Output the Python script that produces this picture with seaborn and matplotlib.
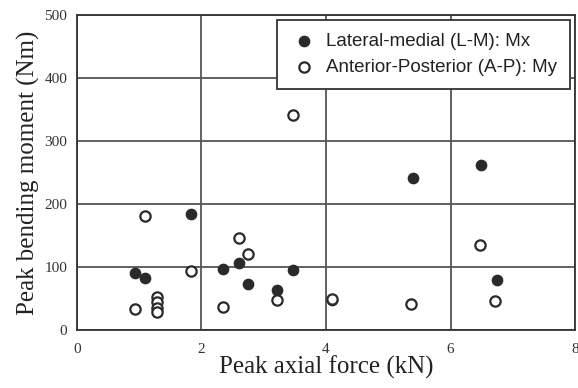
import matplotlib
matplotlib.use("Agg")
import matplotlib.pyplot as plt
import seaborn as sns
import pandas as pd

lm_force = [0.94, 1.09, 1.84, 2.35, 2.61, 2.74, 3.22, 3.47, 4.10, 5.39, 6.49, 6.74]
lm_moment = [90, 83, 184, 97, 106, 73, 63, 96, 48, 242, 262, 79]

ap_force = [0.94, 1.09, 1.28, 1.28, 1.28, 1.28, 1.83, 2.34, 2.61, 2.75, 3.22, 3.47, 4.10, 5.36, 6.48, 6.72]
ap_moment = [33, 182, 52, 44, 35, 29, 94, 37, 146, 121, 48, 342, 49, 42, 135, 46]

series_labels = ["Lateral-medial (L-M): Mx", "Anterior-Posterior (A-P): My"]

df = pd.concat([
    pd.DataFrame({"force": lm_force, "moment": lm_moment, "series": series_labels[0]}),
    pd.DataFrame({"force": ap_force, "moment": ap_moment, "series": series_labels[1]}),
])

sns.set_style("white")
plt.rcParams["font.family"] = ["Liberation Serif", "DejaVu Serif"]

fig = plt.figure(figsize=(5.78, 3.88), dpi=100)
ax = fig.add_axes([0.133, 0.149, 0.862, 0.812])

sns.scatterplot(data=df[df.series == series_labels[0]], x="force", y="moment", ax=ax,
                color="#2a2a2a", edgecolor="#2a2a2a", s=55, linewidth=1.0,
                label=series_labels[0], zorder=3)
sns.scatterplot(data=df[df.series == series_labels[1]], x="force", y="moment", ax=ax,
                facecolor="white", edgecolor="#2a2a2a", s=55, linewidth=1.6,
                label=series_labels[1], zorder=4)

ax.set_xlim(0, 8)
ax.set_ylim(0, 500)
ax.set_xticks([0, 2, 4, 6, 8])
ax.set_yticks([0, 100, 200, 300, 400, 500])
ax.grid(True, color="#555555", linewidth=1.3)
ax.set_axisbelow(True)
for sp in ax.spines.values():
    sp.set_color("#333333")
    sp.set_linewidth(1.3)
ax.tick_params(axis="both", length=0, labelsize=11, colors="#333333")
ax.tick_params(axis="x", pad=9)
ax.tick_params(axis="y", pad=7)
ax.set_xlabel("Peak axial force (kN)", fontsize=18, color="#222222", labelpad=0)
ax.set_ylabel("Peak bending moment (Nm)", fontsize=18, color="#222222", labelpad=3)

leg = ax.legend(loc="upper right", bbox_to_anchor=(0.99, 0.985), borderaxespad=0,
                frameon=True, fancybox=False,
                framealpha=1, edgecolor="#333333", prop={"family": "Liberation Sans", "size": 13.5},
                handletextpad=0.5, borderpad=0.7, labelspacing=0.45, handlelength=1.4)
leg.get_frame().set_linewidth(1.3)
for t in leg.get_texts():
    t.set_color("#222222")

fig.savefig("out.png", dpi=100)
